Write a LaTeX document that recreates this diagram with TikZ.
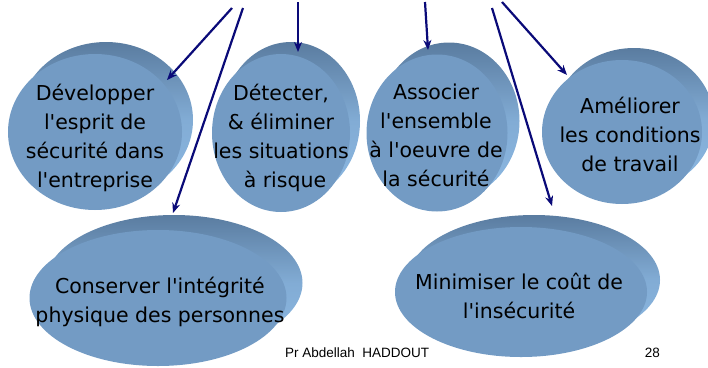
\documentclass[tikz,border=0pt]{standalone}
\usepackage{fontspec}
\setmainfont{DejaVu Sans}
\newfontfamily\footfont{Liberation Sans}
\usetikzlibrary{arrows.meta,shapes.geometric}
\definecolor{facecol}{HTML}{739BC4}
\definecolor{rimdark}{HTML}{5A7CA0}
\definecolor{rimlight}{HTML}{8CB8E2}
\definecolor{arrowcol}{RGB}{10,10,120}
\newcommand\apo{\textquotesingle}
\tikzset{
  face/.style={ellipse, fill=facecol, inner sep=0pt},
  rim/.style={ellipse, inner sep=0pt, top color=rimdark, bottom color=rimlight, middle color=rimlight!80!rimdark},
  txt/.style={align=center, font=\fontsize{20.5}{29}\selectfont, text=black, inner sep=0pt},
  arr/.style={draw=arrowcol, line width=2.2pt, -{Stealth[length=10pt,width=8pt]}},
  foot/.style={font=\footfont\fontsize{13.5}{16}\selectfont, inner sep=0pt}
}
\begin{document}
\begin{tikzpicture}[x=1pt,y=-1pt]
\useasboundingbox (0,0) rectangle (708,367);
\clip (0,0) rectangle (708,367);
% Développer
\node[rim, minimum width=174pt, minimum height=156pt] (devback) at (106,120) {};
\node[face, minimum width=174pt, minimum height=156pt] (dev) at (95,132) {};
% Détecter
\node[rim, minimum width=138pt, minimum height=158pt] (detback) at (291,121) {};
\node[face, minimum width=138pt, minimum height=158pt] (det) at (281,133) {};
% Associer
\node[rim, minimum width=141pt, minimum height=157pt] (assback) at (449,121) {};
\node[face, minimum width=141pt, minimum height=157pt] (ass) at (437,133) {};
% Améliorer
\node[rim, minimum width=160pt, minimum height=144pt] (amback) at (634,120) {};
\node[face, minimum width=160pt, minimum height=144pt] (am) at (622,132) {};
% Conserver
\node[rim, minimum width=257pt, minimum height=136pt] (conback) at (174,283) {};
\node[face, minimum width=257pt, minimum height=136pt] (con) at (158,298) {};
% Minimiser
\node[rim, minimum width=252pt, minimum height=130pt] (minback) at (534,280) {};
\node[face, minimum width=252pt, minimum height=130pt] (min) at (521,292) {};
% texts
\node[txt] (devtxt) at (95,137.5) {Développer\\l\apo esprit de\\sécurité dans\\l\apo entreprise};
\node[txt] (dettxt) at (281,137.5) {Détecter,\\\&\ éliminer\\les situations\\\hspace*{8pt}à risque};
\node[txt] (asstxt) at (436,135.7) {Associer\\l\apo ensemble\\à l\apo oeuvre de\\la sécurité};
\node[txt] (amtxt) at (630,134.5) {Améliorer\\les conditions\\de travail};
\node[txt] (contxt) at (160,302) {Conserver l\apo intégrité\\physique des personnes};
\node[txt] (mintxt) at (519,295.5) {Minimiser le coût de\\l\apo insécurité};
% arrows
\coordinate (s1) at (232,8);  \coordinate (t1) at (167,80);
\coordinate (s2) at (243,8);  \coordinate (t2) at (173,213);
\coordinate (s3) at (298,2);  \coordinate (t3) at (298,52);
\coordinate (s4) at (425,2);  \coordinate (t4) at (428,50);
\coordinate (s5) at (502,2);  \coordinate (t5) at (567,75);
\coordinate (s6) at (492,8);  \coordinate (t6) at (552,206);
\draw[arr] (s1) -- (t1);
\draw[arr] (s2) -- (t2);
\draw[arr] (s3) -- (t3);
\draw[arr] (s4) -- (t4);
\draw[arr] (s5) -- (t5);
\draw[arr] (s6) -- (t6);
% footer
\node[foot, anchor=base west] (author) at (285,357) {Pr Abdellah\ \ HADDOUT};
\node[foot, anchor=base east] (page) at (660,357) {28};
\end{tikzpicture}
\end{document}
